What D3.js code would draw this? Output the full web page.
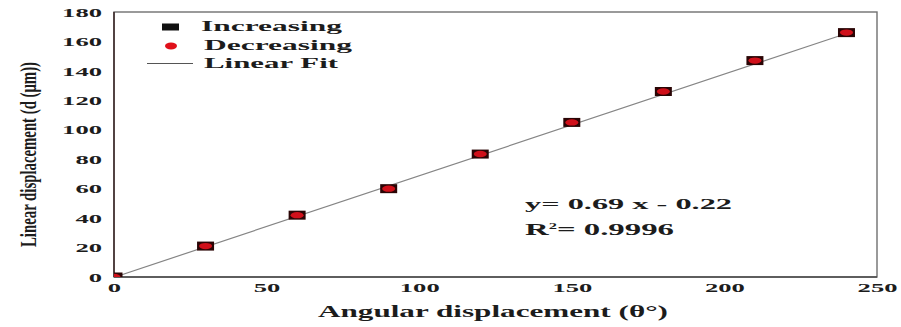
<!DOCTYPE html>
<html>
<head>
<meta charset="utf-8">
<script src="https://cdn.jsdelivr.net/npm/d3@7"></script>
<style>
  body { margin: 0; background: #fff; }
  text { font-family: "Liberation Serif", "Times New Roman", serif; font-weight: bold; fill: #1c1c1c; }
</style>
</head>
<body>
<svg id="chart" width="901" height="327"></svg>
<script>
// Angular displacement (degrees) and measured linear displacement (µm)
const angles     = [0, 30, 60, 90, 120, 150, 180, 210, 240];
const increasing = [0, 21, 42, 60, 83.5, 105, 126, 147, 166];
const decreasing = [0, 21, 42, 60, 83.5, 105, 126, 147, 166];
const xTicks = [0, 50, 100, 150, 200, 250];
const yTicks = [0, 20, 40, 60, 80, 100, 120, 140, 160, 180];
const fitSlope = 0.69;
const fitIntercept = -0.22;
const fitR2 = "0.9996";
const legendLabels = ["Increasing", "Decreasing", "Linear Fit"];

const svg = d3.select("#chart");
const plot = { left: 114, right: 877, top: 12, bottom: 277 };

const x = d3.scaleLinear().domain([0, 250]).range([plot.left, plot.right]);
const y = d3.scaleLinear().domain([0, 180]).range([plot.bottom, plot.top]);

// wide bold serif lettering: stretch glyphs horizontally to a per-character width
function stretch(sel, perChar) {
  sel.attr("textLength", function () { return this.textContent.length * perChar; })
     .attr("lengthAdjust", "spacingAndGlyphs");
}

// axes (labels only, no tick marks)
const xAxis = svg.append("g")
  .attr("transform", `translate(0,${plot.bottom})`)
  .call(d3.axisBottom(x).tickValues(xTicks).tickSize(0).tickPadding(6).tickFormat(d3.format("d")));
xAxis.select(".domain").remove();
xAxis.selectAll("text").style("font-size", "13px").attr("fill", "#1c1c1c")
  .style("font-family", "Liberation Serif, serif").style("font-weight", "bold");
stretch(xAxis.selectAll("text"), 13.3);

const yAxis = svg.append("g")
  .attr("transform", `translate(${plot.left},0)`)
  .call(d3.axisLeft(y).tickValues(yTicks).tickSize(0).tickPadding(12).tickFormat(d3.format("d")));
yAxis.select(".domain").remove();
yAxis.selectAll("text").style("font-size", "13px").attr("fill", "#1c1c1c")
  .style("font-family", "Liberation Serif, serif").style("font-weight", "bold");
stretch(yAxis.selectAll("text"), 13.3);

// plot frame
svg.append("rect")
  .attr("x", plot.left).attr("y", plot.top)
  .attr("width", plot.right - plot.left).attr("height", plot.bottom - plot.top)
  .attr("fill", "none").attr("stroke", "#707070").attr("stroke-width", 1.4);
svg.append("line")
  .attr("x1", plot.left).attr("x2", plot.left).attr("y1", plot.top).attr("y2", plot.bottom)
  .attr("stroke", "#3a2626").attr("stroke-width", 1.5);
svg.append("line")
  .attr("x1", plot.left).attr("x2", plot.right).attr("y1", plot.bottom).attr("y2", plot.bottom)
  .attr("stroke", "#4a4a4a").attr("stroke-width", 1.4);

svg.append("clipPath").attr("id", "plot-clip")
  .append("rect")
  .attr("x", plot.left).attr("y", plot.top)
  .attr("width", plot.right - plot.left).attr("height", plot.bottom - plot.top);

const inner = svg.append("g").attr("clip-path", "url(#plot-clip)");

// linear fit line
const fitX = [angles[0], angles[angles.length - 1]];
inner.append("line")
  .attr("x1", x(fitX[0])).attr("y1", y(fitSlope * fitX[0] + fitIntercept))
  .attr("x2", x(fitX[1])).attr("y2", y(fitSlope * fitX[1] + fitIntercept))
  .attr("stroke", "#858585").attr("stroke-width", 1.2);

// increasing run: black squares
inner.selectAll("rect.inc").data(angles).join("rect")
  .attr("class", "inc")
  .attr("x", (d) => x(d) - 8.5).attr("y", (d, i) => y(increasing[i]) - 4.5)
  .attr("width", 17).attr("height", 9)
  .attr("fill", "#2a0505");

// decreasing run: red circles
inner.selectAll("ellipse.dec").data(angles).join("ellipse")
  .attr("class", "dec")
  .attr("cx", (d) => x(d)).attr("cy", (d, i) => y(decreasing[i]))
  .attr("rx", 6.5).attr("ry", 3.2)
  .attr("fill", "#d0101a");

// legend
const legend = svg.append("g");
legend.append("rect").attr("x", 162).attr("y", 23.5).attr("width", 17).attr("height", 7).attr("fill", "#111");
legend.append("ellipse").attr("cx", 171).attr("cy", 46).attr("rx", 6).attr("ry", 3.4).attr("fill", "#e0101a");
legend.append("line").attr("x1", 147).attr("x2", 193).attr("y1", 63.5).attr("y2", 63.5)
  .attr("stroke", "#555").attr("stroke-width", 1.2);

const legendPos = [[201, 31, 141], [204, 49.5, 148], [204, 67.5, 134]];
legend.selectAll("text").data(legendLabels).join("text")
  .attr("x", (d, i) => legendPos[i][0]).attr("y", (d, i) => legendPos[i][1])
  .attr("textLength", (d, i) => legendPos[i][2]).attr("lengthAdjust", "spacingAndGlyphs")
  .style("font-size", "15px")
  .text((d) => d);

// fit equation
svg.append("text")
  .attr("x", 525).attr("y", 208.5)
  .attr("textLength", 207).attr("lengthAdjust", "spacingAndGlyphs")
  .style("font-size", "15px")
  .text(`y= ${fitSlope} x - ${Math.abs(fitIntercept)}`);

const r2 = svg.append("text")
  .attr("x", 525).attr("y", 234.5)
  .attr("textLength", 149).attr("lengthAdjust", "spacingAndGlyphs")
  .style("font-size", "16px");
r2.append("tspan").text("R");
r2.append("tspan").attr("dy", -6).style("font-size", "8px").text("2");
r2.append("tspan").attr("dy", 6).text(`= ${fitR2}`);

// axis titles
svg.append("text")
  .attr("x", 493).attr("y", 316.5)
  .attr("text-anchor", "middle")
  .attr("textLength", 350).attr("lengthAdjust", "spacingAndGlyphs")
  .style("font-size", "17px")
  .text("Angular displacement (θ°)");

// vertical title: tall, narrow lettering
svg.append("text")
  .attr("transform", "translate(36,154.5) scale(1.85,1) rotate(-90)")
  .attr("text-anchor", "middle")
  .attr("textLength", 185).attr("lengthAdjust", "spacingAndGlyphs")
  .style("font-size", "13px")
  .text("Linear displacement (d (μm))");
</script>
</body>
</html>
